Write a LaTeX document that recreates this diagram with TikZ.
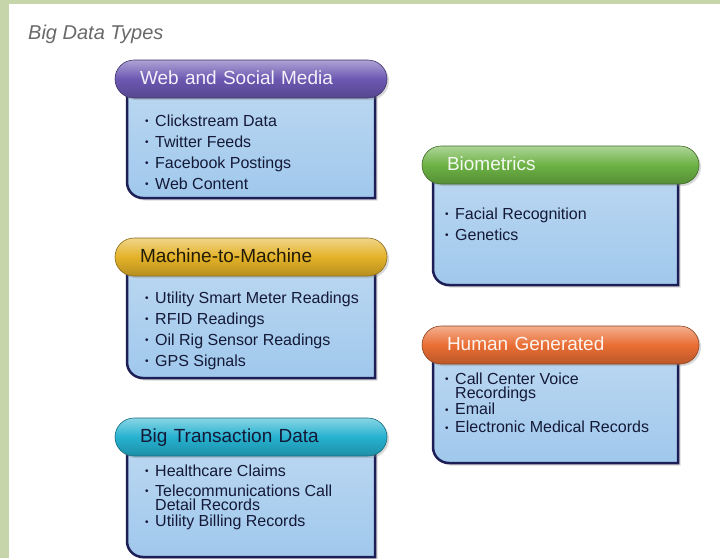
\documentclass[tikz,border=0pt]{standalone}
\usepackage{fontspec}
\setmainfont{Liberation Sans}
\usetikzlibrary{positioning,shadows}
\definecolor{framegreen}{RGB}{198,214,170}
\definecolor{titlegray}{RGB}{105,105,105}
\definecolor{webpurple}{RGB}{108,88,178}
\definecolor{biogreen}{RGB}{108,178,68}
\definecolor{mtomyellow}{RGB}{228,178,40}
\definecolor{humanorange}{RGB}{234,110,52}
\definecolor{transcyan}{RGB}{38,178,208}
\definecolor{bodyblue}{RGB}{160,200,236}
\definecolor{navyline}{RGB}{28,30,85}
\definecolor{textnavy}{RGB}{20,25,55}

\newcommand{\bul}{\rule{0pt}{12pt}\makebox[10pt][l]{\raisebox{1.3pt}{\fontsize{10}{10}\selectfont\textbullet}}}
\newcommand{\hang}{\hspace*{10pt}}
% body panel: x1 y1 x2 y2, rounded top right and bottom left
\newcommand{\bodyshape}[4]{%
  \draw[panel] (#1,#2) -- (#3-16,#2) .. controls (#3-7,#2) and (#3,#2+7) .. (#3,#2+16)
    -- (#3,#4) -- (#1+16,#4) .. controls (#1+7,#4) and (#1,#4-7) .. (#1,#4-16) -- cycle;}

\begin{document}
\begin{tikzpicture}[
    x=1pt, y=-1pt,
    panel/.style={draw=navyline, line width=2.5pt, top color=bodyblue!70!white, bottom color=bodyblue,
      drop shadow={shadow xshift=2.5pt, shadow yshift=-2.5pt, opacity=0.3}},
    pill/.style={rectangle, rounded corners=19pt, minimum height=38pt, text height=14pt, text depth=4pt,
      inner xsep=25pt, align=left, font=\fontsize{19}{19}\selectfont,
      top color=#1!55!white, bottom color=#1!80!black, middle color=#1, draw=#1!60!black, line width=0.6pt,
      drop shadow={shadow xshift=2pt, shadow yshift=-2pt, opacity=0.3}},
    items/.style={anchor=north west, inner sep=0pt, align=left, text=textnavy, font=\fontsize{16}{21}\selectfont}
]
\useasboundingbox (0,0) rectangle (720,558);
\fill[white] (0,0) rectangle (720,558);
\fill[framegreen] (0,0) rectangle (9,558);
\fill[framegreen] (0,0) rectangle (720,4);

\node[anchor=base west, inner sep=0pt, text=titlegray, font=\fontsize{20}{20}\selectfont\itshape] (title) at (28,39) {Big Data Types};

% left column
\bodyshape{127}{80}{375}{198}
\node[pill=webpurple, text width=222pt, text=white!92!webpurple] (webhead) at (251,79) {Web and Social Media};
\node[items] (webitems) at (145,114) {\bul Clickstream Data\\ \bul Twitter Feeds\\ \bul Facebook Postings\\ \bul Web Content};

\bodyshape{127}{257}{375}{378}
\node[pill=mtomyellow, text width=222pt, text=black!85!mtomyellow] (mtomhead) at (251,257) {Machine-to-Machine};
\node[items] (mtomitems) at (145,291) {\bul Utility Smart Meter Readings\\ \bul RFID Readings\\ \bul Oil Rig Sensor Readings\\ \bul GPS Signals};

\bodyshape{127}{437}{375}{557}
\node[pill=transcyan, text width=222pt, text=textnavy] (transhead) at (251,437) {Big Transaction Data};
\node[items] (transitems) at (145,464) {\bul Healthcare Claims\\[-1pt] \bul Telecommunications Call\\[-6.5pt] \hang Detail Records\\[-5pt] \bul Utility Billing Records};

% right column
\bodyshape{433}{165}{678}{285}
\node[pill=biogreen, text width=227pt, text=white!92!biogreen] (biohead) at (560.5,165) {Biometrics};
\node[items] (bioitems) at (445,207) {\bul Facial Recognition\\ \bul Genetics};

\bodyshape{433}{345}{678}{463}
\node[pill=humanorange, text width=227pt, text=white!92!humanorange] (humanhead) at (560.5,345) {Human Generated};
\node[items] (humanitems) at (445,372) {\bul Call Center Voice\\[-6.5pt] \hang Recordings\\[-5pt] \bul Email\\[-3pt] \bul Electronic Medical Records};

\end{tikzpicture}
\end{document}
